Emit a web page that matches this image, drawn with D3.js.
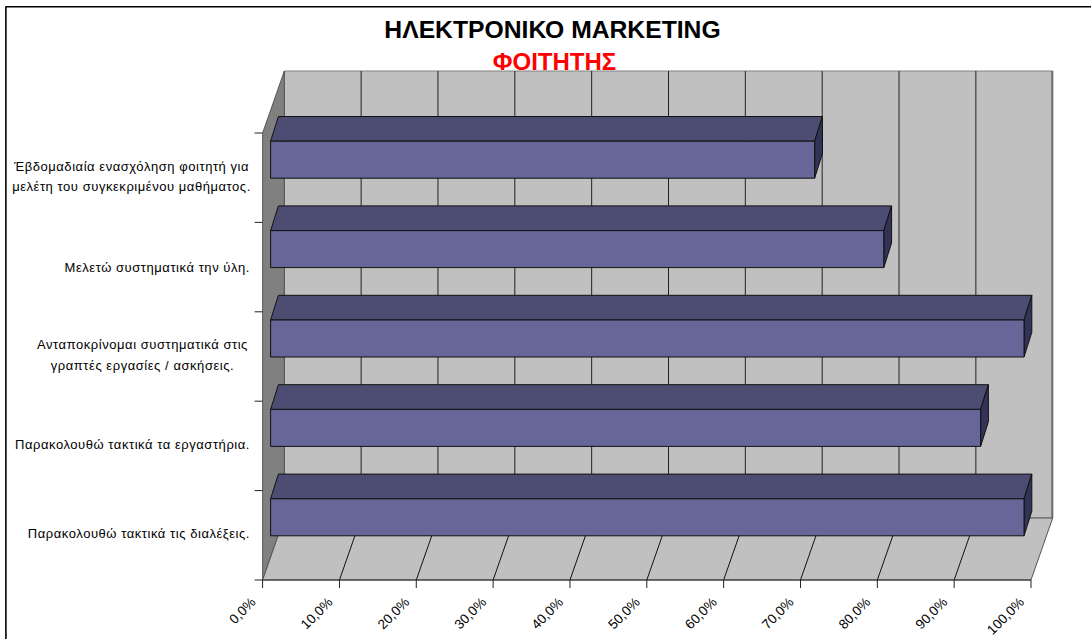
<!DOCTYPE html>
<html><head><meta charset="utf-8">
<script src="https://d3js.org/d3.v7.min.js"></script>
<style>html,body{margin:0;padding:0;background:#fff}svg{display:block}text{font-family:"Liberation Sans",Arial,sans-serif}</style>
</head><body><svg id="c" width="1091" height="639"></svg>
<script>
const categories=["Έβδομαδιαία ενασχόληση φοιτητή για|μελέτη του συγκεκριμένου μαθήματος.","Μελετώ συστηματικά την ύλη.","Ανταποκρίνομαι συστηματικά στις|γραπτές εργασίες / ασκήσεις.","Παρακολουθώ τακτικά τα εργαστήρια.","Παρακολουθώ τακτικά τις διαλέξεις."];
const values=[70.8,79.8,98.05,92.4,98.05];
const ticks=[0,10,20,30,40,50,60,70,80,90,100];
const titleText="ΗΛΕΚΤΡΟΝΙΚΟ MARKETING";
const subtitleText="ΦΟΙΤΗΤΗΣ";

const svg=d3.select("#c");
const x=d3.scaleLinear().domain([0,100]).range([262.6,1031]);
const y=d3.scaleBand().domain(d3.range(categories.length)).range([133,580]);
const depthX=21.7,depthY=62;
const barDX=8,barDY=8.2,barH=37,barBackX=7.8,barBackY=24.7;
const poly=(pts,fill,stroke,sw)=>svg.append("polygon").attr("points",pts.map(p=>p.join(",")).join(" ")).attr("fill",fill).attr("stroke",stroke).attr("stroke-width",sw).attr("stroke-linejoin","round");
const line=(a,b,c,d,col="#000",sw=1)=>svg.append("line").attr("x1",a).attr("y1",b).attr("x2",c).attr("y2",d).attr("stroke",col).attr("stroke-width",sw);

// frame
line(5.5,6.8,1091,6.8,"#000",1.6);
line(5.9,6.5,5.9,639,"#000",1.6);

const yTop=y(0), yBot=y.range()[1];
// back wall
poly([[x(0)+depthX,yTop-depthY],[x(100)+depthX,yTop-depthY],[x(100)+depthX,yBot-depthY],[x(0)+depthX,yBot-depthY]],"#c0c0c0","#808080",1);
// right wall edge
line(x(100)+depthX-.5,yTop-depthY,x(100)+depthX-.5,yBot-depthY,"#707070",2);
// left wall
poly([[x(0),yTop],[x(0)+depthX,yTop-depthY],[x(0)+depthX,yBot-depthY],[x(0),yBot]],"#808080","#404040",.8);
// floor
poly([[x(0),yBot],[x(0)+depthX,yBot-depthY],[x(100)+depthX,yBot-depthY],[x(100),yBot]],"#c0c0c0","#555",1);
// gridlines
ticks.slice(1,-1).forEach(t=>{
  line(x(t)+depthX,yTop-depthY,x(t)+depthX,yBot-depthY,"#222",1);
  line(x(t),yBot,x(t)+depthX,yBot-depthY,"#111",1);
});
line(x(0),yBot,x(100),yBot,"#333",1.2);

// bars
values.forEach((v,i)=>{
  const l=x(0)+barDX, r=x(v)+barDX, t=y(i)+barDY, b=t+barH;
  const dx=barBackX, dy=barBackY;
  poly([[l,t],[l+dx,t-dy],[r+dx,t-dy],[r,t]],"#4d4d73","#111",1);
  poly([[r,t],[r+dx,t-dy],[r+dx,b-dy],[r,b]],"#333359","#111",1);
  poly([[l,t],[r,t],[r,b],[l,b]],"#666699","#111",1);
});

// axis ticks
d3.range(categories.length+1).forEach(i=>{
  const yy=yTop+i*y.step();
  line(x(0)-8,yy,x(0),yy,"#222",1);
});
ticks.forEach(t=>line(x(t),yBot,x(t),yBot+8,"#222",1));

// category labels
const labelBase=[170.5,271.5,349,449,538];
const labelCx=[131.5,null,142.5,null,null];
categories.forEach((c,i)=>{
  const parts=c.split("|");
  parts.forEach((p,j)=>{
    const multi=parts.length>1;
    svg.append("text").attr("x",multi?labelCx[i]:250).attr("y",labelBase[i]+j*20.7)
      .attr("text-anchor",multi?"middle":"end").attr("font-size",13).attr("letter-spacing",0.55).attr("fill","#000").text(p);
  });
});
// x labels
ticks.forEach(t=>{
  svg.append("text").attr("transform",`translate(${x(t)-6},${yBot+23}) rotate(-45)`).attr("text-anchor","end").attr("font-size",13.5).attr("fill","#000").text(t.toFixed(1).replace(".",",")+"%");
});
// titles
svg.append("text").attr("x",552.5).attr("y",37.5).attr("text-anchor","middle").attr("font-size",24.7).attr("font-weight","bold").attr("fill","#000").text(titleText);
svg.append("text").attr("x",554.5).attr("y",70).attr("text-anchor","middle").attr("font-size",24).attr("font-weight","bold").attr("fill","#ff0000").text(subtitleText);
</script></body></html>
